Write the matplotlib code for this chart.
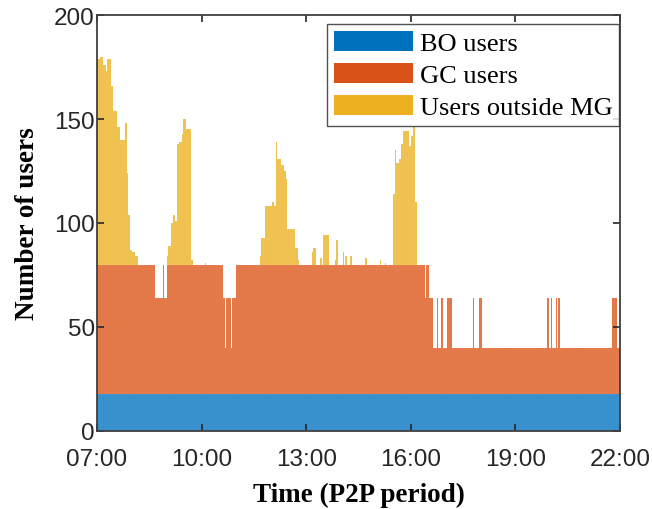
import numpy as np
import matplotlib
matplotlib.use("Agg")
import matplotlib.pyplot as plt
from matplotlib.patches import Patch

# Users per one-minute P2P period from 07:00 to 22:00, stored as runs of (minutes, users)
bo_runs = [(900, 18)]

gc_runs = [
    (99, 62), (9, 46), (1, 22), (4, 46), (3, 62), (4, 46),
    (97, 62), (4, 46), (1, 22), (9, 46), (1, 22), (8, 46),
    (324, 62), (2, 46), (6, 62), (6, 46), (7, 22), (2, 46), (5, 22), (3, 46),
    (8, 22), (4, 46), (1, 22), (3, 46), (1, 22), (1, 46), (34, 22), (1, 46),
    (10, 22), (4, 46), (112, 22), (4, 46), (3, 22), (2, 46), (7, 22), (2, 46),
    (1, 22), (3, 46), (91, 22), (7, 46), (6, 22),
]

outside_runs = [
    (5, 99), (6, 100), (4, 96), (3, 93), (6, 99), (4, 86), (6, 74), (6, 66),
    (8, 60), (4, 68), (2, 44), (2, 24), (4, 7), (5, 6), (6, 4), (49, 0),
    (2, 4), (5, 9), (4, 20), (3, 24), (4, 21), (3, 58), (5, 59), (2, 63),
    (5, 70), (4, 65), (5, 65), (3, 2), (21, 0), (1, 1), (94, 0),
    (2, 4), (6, 13), (12, 28), (4, 30), (3, 28), (2, 59), (6, 51), (5, 48),
    (4, 45), (2, 41), (14, 17), (4, 8), (3, 2), (22, 0),
    (2, 6), (5, 8), (6, 0), (4, 3), (1, 0), (12, 14), (10, 0), (1, 2), (4, 12),
    (8, 0), (2, 6), (2, 0), (4, 4), (4, 0), (3, 4), (23, 0), (3, 3), (23, 0),
    (2, 2), (7, 0), (2, 1), (11, 0),
    (3, 34), (3, 55), (4, 49), (4, 51), (4, 58), (5, 64), (4, 64), (4, 57),
    (4, 62), (3, 66), (3, 30), (350, 0),
]

tick_minutes = [0, 180, 360, 540, 720, 900]
tick_labels = ["07:00", "10:00", "13:00", "16:00", "19:00", "22:00"]
series_names = ["BO users", "GC users", "Users outside MG"]


def expand(runs):
    lengths = [r[0] for r in runs]
    values = [r[1] for r in runs]
    return np.repeat(values, lengths).astype(float)


bo = expand(bo_runs)
gc = expand(gc_runs)
outside = expand(outside_runs)
t = np.arange(len(bo)) + 0.5

colors = ["#0072BD", "#D95319", "#EDB120"]
bar_colors = ["#2B8ACB", "#E3703D", "#EFBE45"]
seam = (1, 1, 1, 0.18)

fig = plt.figure(figsize=(6.52, 5.10), dpi=100)
ax = fig.add_axes([0.1488, 0.153, 0.8022, 0.8156])

ax.bar(t, bo, width=1.0, color=bar_colors[0], edgecolor=seam, linewidth=0.15)
ax.bar(t, gc, width=1.0, bottom=bo, color=bar_colors[1], edgecolor=seam, linewidth=0.15)
ax.bar(t, outside, width=1.0, bottom=bo + gc, color=bar_colors[2], edgecolor=seam, linewidth=0.15)

ax.set_xlim(0, 900)
ax.set_ylim(0, 200)
ax.set_xticks(tick_minutes)
ax.set_xticklabels(tick_labels)
ax.set_yticks([0, 50, 100, 150, 200])

for lab in ax.get_xticklabels() + ax.get_yticklabels():
    lab.set_fontfamily("Liberation Sans")
    lab.set_fontsize(17.5)
    lab.set_color("#262626")

ax.tick_params(direction="in", length=5, width=1.2, colors="#262626",
               top=True, right=True)
ax.tick_params(axis="x", pad=12.5)
ax.tick_params(axis="y", pad=1.5)
for sp in ax.spines.values():
    sp.set_linewidth(1.3)
    sp.set_color("#404040")

label_font = {"family": "Liberation Serif", "weight": "bold", "size": 19.5}
ax.set_xlabel("Time (P2P period)", fontdict=label_font, labelpad=8)
ax.set_ylabel("Number of users", fontdict=label_font, labelpad=10)

handles = [Patch(facecolor=c, edgecolor="none") for c in colors]
leg = ax.legend(handles, series_names, loc="upper right",
                bbox_to_anchor=(0.998, 0.978),
                prop={"family": "Liberation Serif", "size": 19},
                frameon=True, fancybox=False, handlelength=3.0, handleheight=0.8,
                handletextpad=0.25, borderpad=0.25, labelspacing=0.3,
                borderaxespad=0.0)
leg.get_frame().set_edgecolor("#262626")
leg.get_frame().set_linewidth(1.0)

fig.savefig("out.png", dpi=100)
